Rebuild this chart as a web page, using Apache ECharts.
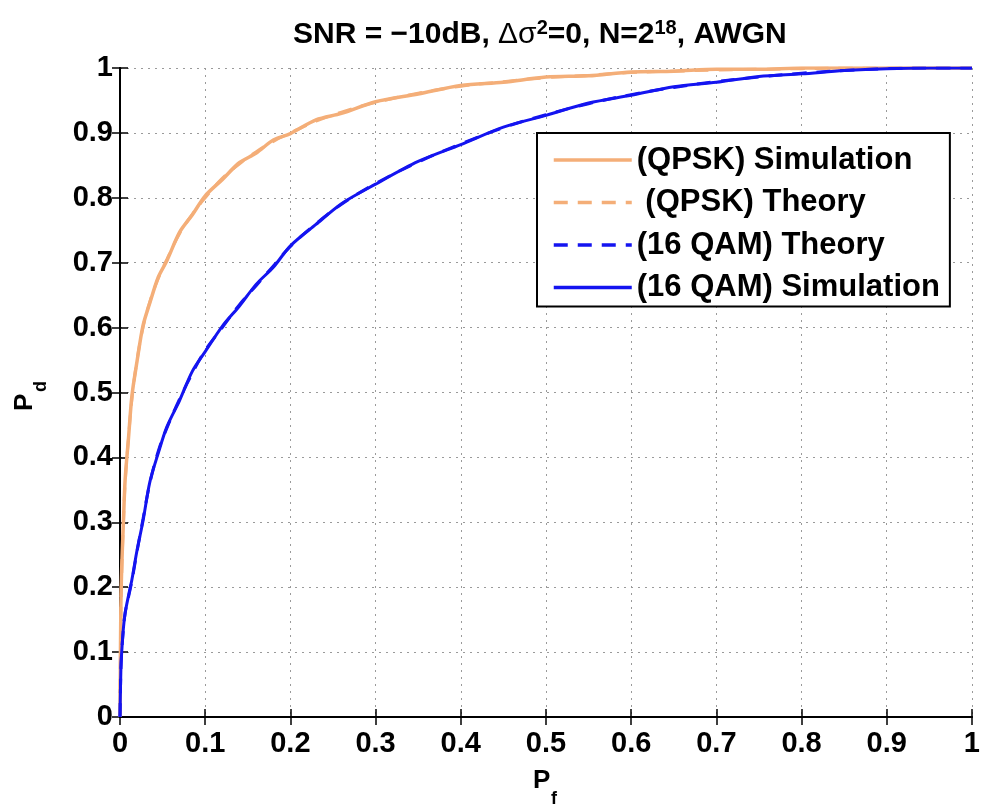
<!DOCTYPE html>
<html><head><meta charset="utf-8">
<script src="https://cdn.jsdelivr.net/npm/echarts@6/dist/echarts.min.js"></script>
<style>html,body{margin:0;padding:0;background:#fff}#c{width:983px;height:812px}</style>
</head><body><div id="c"></div>
<script>
// Probability of false alarm (x) grid
const pf = [0, 0.001, 0.002, 0.004, 0.006, 0.01, 0.014, 0.02, 0.027, 0.035, 0.045, 0.055, 0.07, 0.085, 0.1, 0.12, 0.14, 0.16, 0.18, 0.2, 0.23, 0.26, 0.3, 0.35, 0.4, 0.45, 0.5, 0.55, 0.6, 0.65, 0.7, 0.75, 0.8, 0.85, 0.9, 0.95, 1];
// QPSK
const qpskTheory = [0, 0.16, 0.22, 0.30, 0.36, 0.43, 0.49, 0.55, 0.60, 0.64, 0.676, 0.705, 0.745, 0.775, 0.80, 0.83, 0.852, 0.871, 0.887, 0.90, 0.918, 0.932, 0.947, 0.961, 0.972, 0.979, 0.985, 0.989, 0.993, 0.995, 0.997, 0.998, 0.999, 1, 1, 1, 1];
const qpskSim    = [0, 0.17, 0.23, 0.30, 0.365, 0.43, 0.495, 0.548, 0.603, 0.638, 0.678, 0.703, 0.747, 0.774, 0.803, 0.828, 0.854, 0.869, 0.889, 0.899, 0.92, 0.93, 0.948, 0.96, 0.973, 0.978, 0.986, 0.988, 0.994, 0.995, 0.998, 0.998, 1, 1, 1, 1, 1];
// 16 QAM
const qamTheory = [0, 0.07, 0.10, 0.135, 0.16, 0.185, 0.21, 0.255, 0.305, 0.36, 0.41, 0.445, 0.49, 0.53, 0.565, 0.60, 0.635, 0.665, 0.695, 0.725, 0.76, 0.79, 0.822, 0.855, 0.883, 0.908, 0.928, 0.945, 0.959, 0.97, 0.979, 0.986, 0.992, 0.996, 0.999, 1, 1];
const qamSim    = [0, 0.072, 0.10, 0.137, 0.16, 0.187, 0.212, 0.257, 0.302, 0.362, 0.407, 0.447, 0.488, 0.533, 0.563, 0.602, 0.633, 0.667, 0.693, 0.726, 0.759, 0.791, 0.821, 0.856, 0.882, 0.909, 0.927, 0.946, 0.958, 0.971, 0.978, 0.987, 0.991, 0.996, 0.999, 1, 1];
const tickLabels = ['0', '0.1', '0.2', '0.3', '0.4', '0.5', '0.6', '0.7', '0.8', '0.9', '1'];
const seriesNames = ['(QPSK) Simulation', ' (QPSK) Theory', '(16 QAM) Theory', '(16 QAM) Simulation'];

const FF = "'Liberation Sans', Arial, Helvetica, sans-serif";
const ORANGE = '#F4AE78';
const BLUE = '#1414F0';
const pairs = arr => pf.map((x, i) => [x, arr[i]]);
const fmt = v => tickLabels[Math.round(v * 10)];

const labelStyle = {fontSize: 29, fontWeight: 'bold', color: '#000', fontFamily: FF};
const gridLine = {show: true, lineStyle: {color: '#9a9a9a', type: [2, 5], width: 1}};
const axisLine = {show: true, lineStyle: {color: '#000', width: 2}};
const tickIn = {show: true, inside: true, length: 8, lineStyle: {color: '#000', width: 1.5}};

const chart = echarts.init(document.getElementById('c'), null, {renderer: 'canvas'});
chart.setOption({
  animation: false,
  backgroundColor: '#fff',
  title: {
    left: 288, top: 13,
    text: '{a|SNR = −10dB, }{g|Δσ}{s|2}{a|=0, N=2}{s|18}{a|, AWGN}',
    textStyle: {
      rich: {
        a: {fontSize: 30, fontWeight: 'bold', fontFamily: FF, color: '#000', lineHeight: 33},
        g: {fontSize: 30, fontWeight: 'normal', fontFamily: FF, color: '#000', lineHeight: 33},
        s: {fontSize: 20, fontWeight: 'bold', fontFamily: FF, color: '#000', lineHeight: 20, verticalAlign: 'top'}
      }
    }
  },
  grid: {left: 120, right: 8, top: 68, bottom: 95, containLabel: false},
  xAxis: [
    {type: 'value', min: 0, max: 1, interval: 0.1, position: 'bottom',
     axisLine, axisTick: tickIn, splitLine: gridLine,
     axisLabel: Object.assign({margin: 12, formatter: fmt}, labelStyle)},
    {type: 'value', min: 0, max: 1, interval: 0.1, position: 'top',
     axisLine, axisTick: tickIn, splitLine: {show: false}, axisLabel: {show: false}}
  ],
  yAxis: [
    {type: 'value', min: 0, max: 1, interval: 0.1, position: 'left',
     axisLine, axisTick: tickIn, splitLine: gridLine,
     axisLabel: Object.assign({margin: 7, formatter: fmt}, labelStyle)},
    {type: 'value', min: 0, max: 1, interval: 0.1, position: 'right',
     axisLine, axisTick: tickIn, splitLine: {show: false}, axisLabel: {show: false}}
  ],
  legend: {
    orient: 'vertical', left: 537, top: 133,
    padding: [10, 10, 2, 15], itemGap: 8.5, itemWidth: 78, itemHeight: 20,
    backgroundColor: '#fff', borderColor: '#000', borderWidth: 2, borderRadius: 0,
    itemStyle: {opacity: 0},
    lineStyle: {width: 3.5},
    textStyle: {fontSize: 31, fontWeight: 'bold', fontFamily: FF, color: '#000', lineHeight: 34},
    data: seriesNames
  },
  series: [
    {name: seriesNames[0], type: 'line', data: pairs(qpskSim), symbol: 'none', smooth: 0.3,
     lineStyle: {color: ORANGE, width: 3.5, type: 'solid'}, itemStyle: {color: ORANGE}, z: 2},
    {name: seriesNames[1], type: 'line', data: pairs(qpskTheory), symbol: 'none', smooth: 0.4,
     lineStyle: {color: ORANGE, width: 3, type: [14, 10]}, itemStyle: {color: ORANGE}, z: 3},
    {name: seriesNames[2], type: 'line', data: pairs(qamTheory), symbol: 'none', smooth: 0.4,
     lineStyle: {color: BLUE, width: 3, type: [14, 10]}, itemStyle: {color: BLUE}, z: 5},
    {name: seriesNames[3], type: 'line', data: pairs(qamSim), symbol: 'none', smooth: 0.3,
     lineStyle: {color: BLUE, width: 3, type: 'solid'}, itemStyle: {color: BLUE}, z: 4}
  ],
  graphic: [
    {type: 'text', x: 533, y: 781, style: {text: 'P', fontSize: 26, fontWeight: 'bold', fontFamily: FF, fill: '#000', align: 'left', verticalAlign: 'middle'}},
    {type: 'text', x: 551, y: 799, style: {text: 'f', fontSize: 18, fontWeight: 'bold', fontFamily: FF, fill: '#000', align: 'left', verticalAlign: 'middle'}},
    {type: 'group', x: 25, y: 411, rotation: Math.PI / 2, children: [
      {type: 'text', x: 0, y: 0, style: {text: 'P', fontSize: 26, fontWeight: 'bold', fontFamily: FF, fill: '#000', align: 'left', verticalAlign: 'middle'}},
      {type: 'text', x: 19, y: 16, style: {text: 'd', fontSize: 18, fontWeight: 'bold', fontFamily: FF, fill: '#000', align: 'left', verticalAlign: 'middle'}}
    ]}
  ]
});
</script>
</body></html>
